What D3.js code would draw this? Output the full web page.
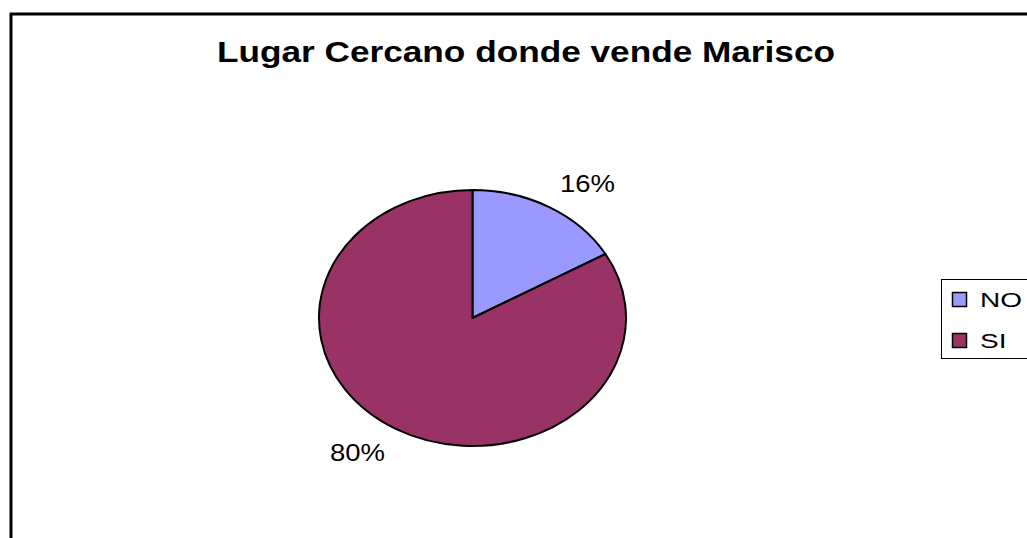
<!DOCTYPE html>
<html>
<head>
<meta charset="utf-8">
<script src="https://cdn.jsdelivr.net/npm/d3@7"></script>
<style>
  body { margin: 0; background: #fff; }
  text { font-family: "Liberation Sans", Arial, sans-serif; }
</style>
</head>
<body>
<div id="chart"></div>
<script>
/* DATA */
const title = "Lugar Cercano donde vende Marisco";
const categories = ["NO", "SI"];
const values = [16, 80];
const labels = ["16%", "80%"];
const colors = ["#9999FF", "#993366"];

/* LAYOUT */
const width = 1027,
  height = 538;
const cx = 472.5, cy = 318, rx = 153.5, ry = 128;

const svg = d3.select("#chart")
  .append("svg")
  .attr("width", width)
  .attr("height", height);

// chart area border (runs off right and bottom)
svg.append("rect")
  .attr("x", 11)
  .attr("y", 14)
  .attr("width", 1100)
  .attr("height", 600)
  .attr("fill", "white")
  .attr("stroke", "black")
  .attr("stroke-width", 3);

// title (the original is stretched sideways)
svg.append("text")
  .attr("x", 217)
  .attr("y", 62)
  .attr("font-size", 29)
  .attr("font-weight", "bold")
  .attr("textLength", 618)
  .attr("lengthAdjust", "spacingAndGlyphs")
  .text(title);

// pie (unit radius, stretched into an ellipse)
const data = categories.map((c, i) => ({ cat: c, value: values[i], label: labels[i], color: colors[i] }));
const pie = d3.pie().value(d => d.value).sort(null);
const arc = d3.arc().innerRadius(0).outerRadius(1);
const arcs = pie(data);

const pieG = svg.append("g")
  .attr("transform", `translate(${cx},${cy}) scale(${rx},${ry})`);

pieG.selectAll("path")
  .data(arcs)
  .join("path")
  .attr("d", arc)
  .attr("fill", d => d.data.color)
  .attr("stroke", "black")
  .attr("stroke-width", 2)
  .attr("vector-effect", "non-scaling-stroke")
  .attr("stroke-linejoin", "round");

// labels: nearest corner touches a point just outside the ellipse
const labelR = 1.14;
svg.selectAll("text.lbl")
  .data(arcs)
  .join("text")
  .attr("class", "lbl")
  .each(function (d) {
    const a = (d.startAngle + d.endAngle) / 2;
    const s = Math.sin(a), c = Math.cos(a);
    const x = cx + rx * labelR * s;
    const y = cy - ry * labelR * c;
    d3.select(this)
      .attr("x", x)
      .attr("y", c > 0 ? y : y + 17)
      .attr("text-anchor", s >= 0 ? "start" : "end");
  })
  .attr("font-size", 24)
  .attr("textLength", 55)
  .attr("lengthAdjust", "spacingAndGlyphs")
  .text(d => d.data.label);

// legend
const legend = svg.append("g");
legend.append("rect")
  .attr("x", 941.5)
  .attr("y", 279.5)
  .attr("width", 120)
  .attr("height", 79)
  .attr("fill", "white")
  .attr("stroke", "black")
  .attr("stroke-width", 1);

const legendY = d3.scaleBand()
  .domain(categories)
  .range([284, 366]);

const item = legend.selectAll("g.item")
  .data(data)
  .join("g")
  .attr("class", "item")
  .attr("transform", d => `translate(0,${legendY(d.cat)})`);

item.append("rect")
  .attr("x", 952.5)
  .attr("y", 8.5)
  .attr("width", 14)
  .attr("height", 14)
  .attr("fill", d => d.color)
  .attr("stroke", "black")
  .attr("stroke-width", 1.5);

item.append("text")
  .attr("transform", "translate(980,23) scale(1.4,1)")
  .attr("font-size", 20)
  .text(d => d.cat);
</script>
</body>
</html>
